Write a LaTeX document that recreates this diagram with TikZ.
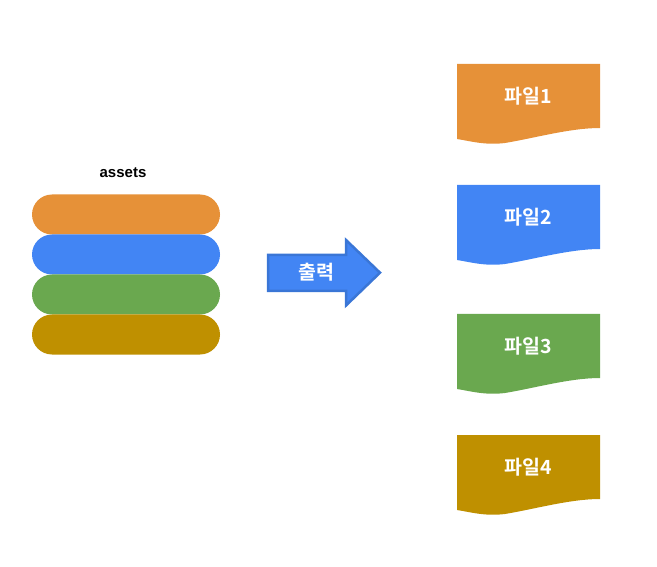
\documentclass[tikz,border=0pt]{standalone}
\usepackage{fontspec}
\setmainfont{Liberation Sans}
\newfontfamily\kr{Noto Sans CJK KR}[BoldFont={Noto Sans CJK KR Bold}]
\definecolor{cOrange}{HTML}{E69138}
\definecolor{cBlue}{HTML}{4285F4}
\definecolor{cGreen}{HTML}{6AA84F}
\definecolor{cGold}{HTML}{BF9000}
\definecolor{cBlueEdge}{HTML}{3A76D6}
\begin{document}
\begin{tikzpicture}[x=1pt,y=-1pt,
  pill/.style={draw=none,rounded corners=20pt,minimum width=188pt,minimum height=40pt,inner sep=0pt},
  doclabel/.style={text=white,font=\kr\bfseries\fontsize{19.5}{21}\selectfont,inner sep=0pt},
  arrowlabel/.style={text=white,font=\kr\bfseries\fontsize{19.5}{21}\selectfont,inner sep=0pt},
  stacklabel/.style={font=\bfseries\fontsize{15}{17}\selectfont,inner sep=0pt}]
\useasboundingbox (0,0) rectangle (657,567);
% stack
\node[stacklabel] (assets) at (123,173) {assets};
\node[pill,fill=cOrange] (p1) at (126,214.5) {};
\node[pill,fill=cBlue] (p2) at (126,254.5) {};
\node[pill,fill=cGreen] (p3) at (126,294.5) {};
\node[pill,fill=cGold] (p4) at (126,334.5) {};
% arrow
\draw[cBlueEdge,line width=2.5pt,fill=cBlue,line join=miter]
  (268,255) -- (346,255) -- (346,240) -- (380,272.7) -- (346,305.5) -- (346,291) -- (268,291) -- cycle;
\node[arrowlabel] (out) at (316,272) {출력};
% documents
\foreach \i/\y/\c/\n in {1/64/cOrange/1,2/185/cBlue/2,3/314/cGreen/3,4/435/cGold/4}{
  \fill[\c] (457,\y) -- (600,\y) -- (600,{\y+64})
    .. controls (570,{\y+64}) and (535,{\y+74}) .. (505,{\y+79})
    .. controls (485,{\y+81.5}) and (470,{\y+77}) .. (457,{\y+75}) -- cycle;
  \node[doclabel] (d\i) at (528.5,{\y+32.5}) {파일\n};
}
\end{tikzpicture}
\end{document}
